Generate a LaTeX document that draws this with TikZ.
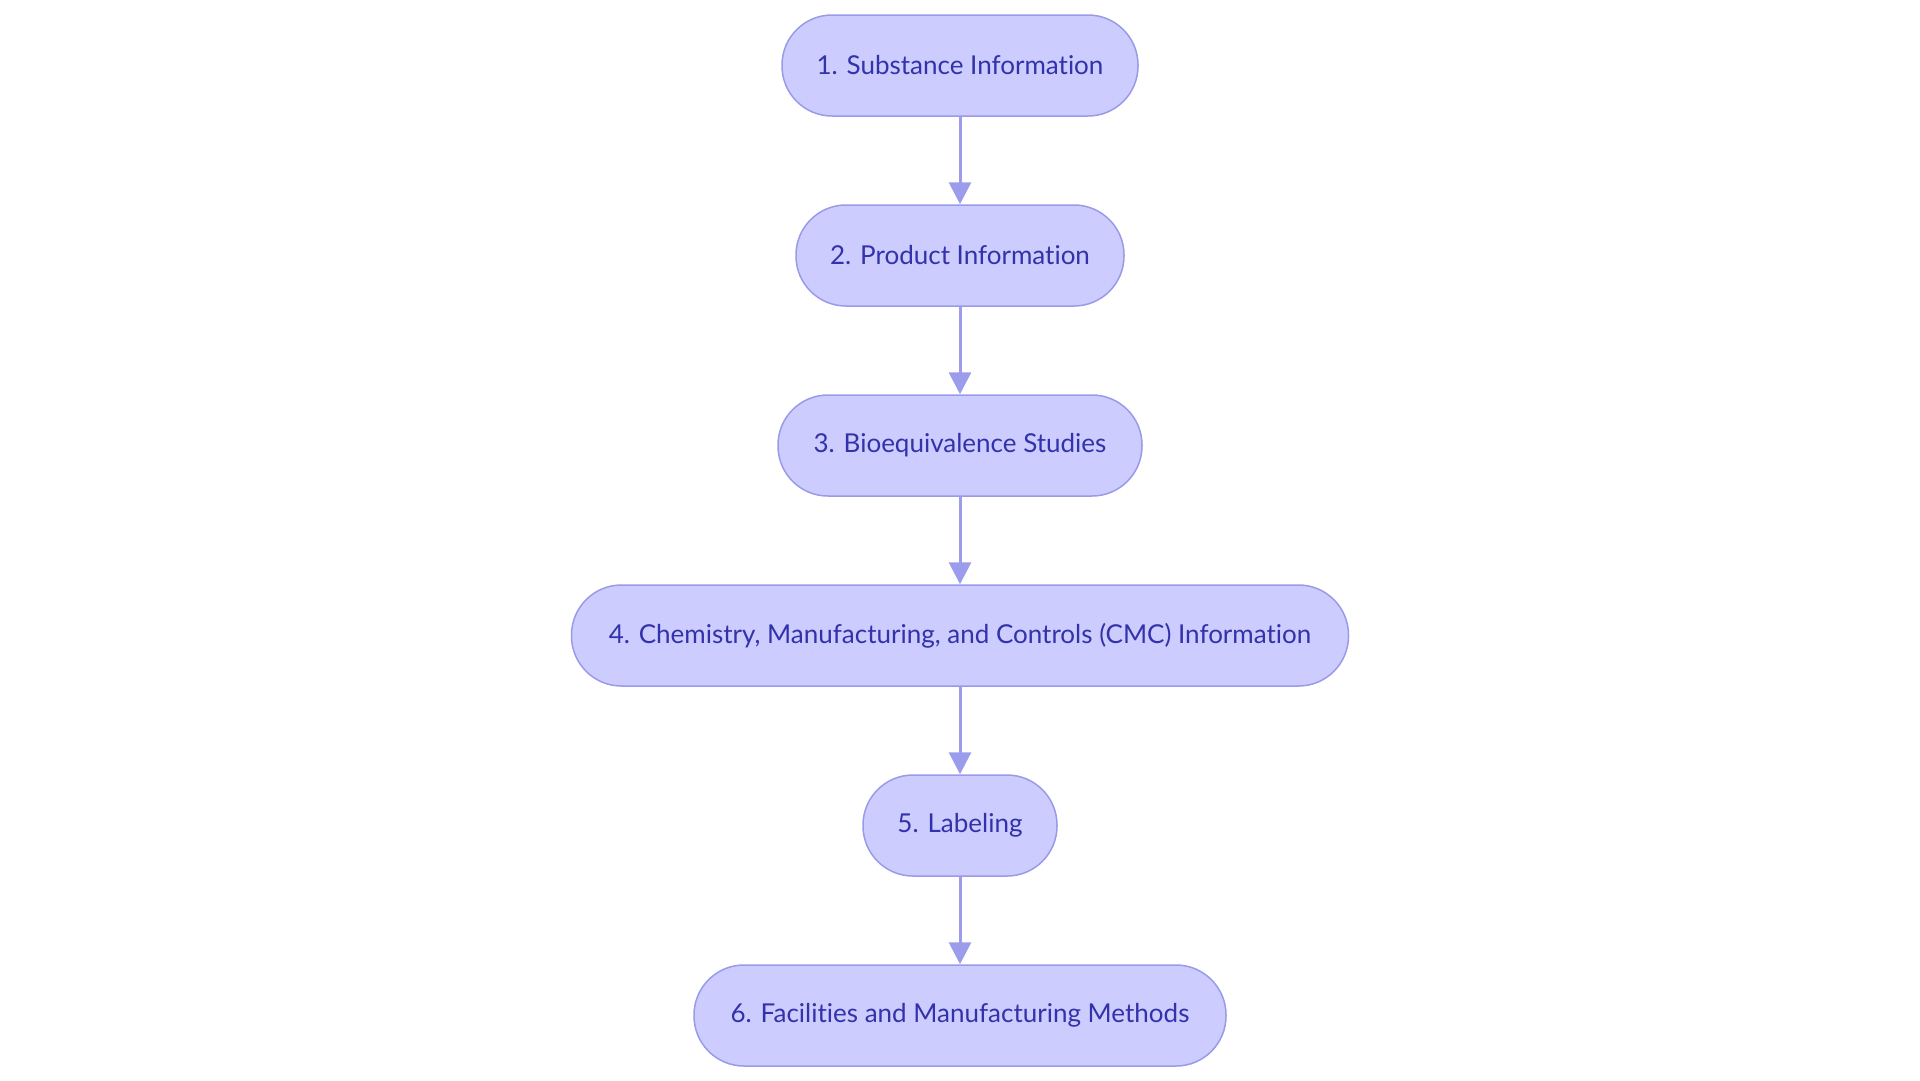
\documentclass[tikz,border=0pt]{standalone}
\usepackage{fontspec}
\setmainfont{Lato}[Ligatures={NoCommon}]
\usetikzlibrary{arrows.meta}
\definecolor{boxfill}{HTML}{CCCCFF}
\definecolor{boxline}{HTML}{9A9AE8}
\definecolor{boxtext}{HTML}{3232AA}
\definecolor{arrowc}{HTML}{9C9CEC}
\tikzset{
  stepbox/.style={draw=boxline, fill=boxfill, line width=1.5pt, rounded corners=50pt,
    minimum height=101pt, inner sep=0pt, text=boxtext, font=\fontsize{26}{30}\selectfont},
  flow/.style={draw=arrowc, line width=3pt, -{Triangle[length=22pt,width=22pt]}}
}
\begin{document}
\begin{tikzpicture}[x=1pt,y=-1pt]
\useasboundingbox (0,0) rectangle (1920,1080);
\node[stepbox, minimum width=356pt] (n1) at (960,65.5) {1. Substance Information};
\node[stepbox, minimum width=328pt] (n2) at (960,255.5) {2. Product Information};
\node[stepbox, minimum width=364pt] (n3) at (960,445.5) {3. Bioequivalence Studies};
\node[stepbox, minimum width=777pt] (n4) at (960,635.5) {4. Chemistry, Manufacturing, and Controls (CMC) Information};
\node[stepbox, minimum width=194pt] (n5) at (960,825.5) {5. Labeling};
\node[stepbox, minimum width=532pt] (n6) at (960,1015.5) {6. Facilities and Manufacturing Methods};
\draw[flow] (n1) -- (n2);
\draw[flow] (n2) -- (n3);
\draw[flow] (n3) -- (n4);
\draw[flow] (n4) -- (n5);
\draw[flow] (n5) -- (n6);
\end{tikzpicture}
\end{document}
